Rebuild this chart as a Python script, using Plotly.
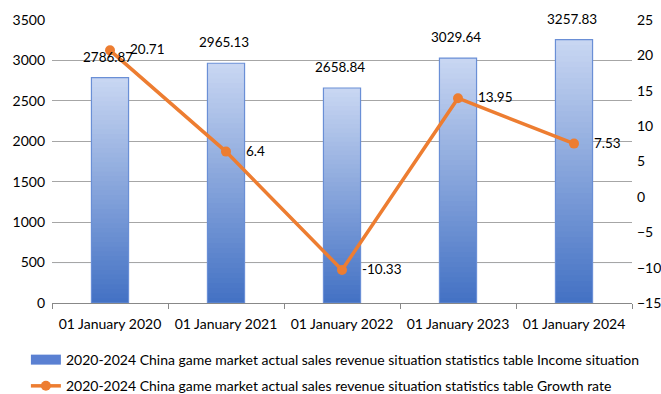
import plotly.graph_objects as go

# Data
years = ["01 January 2020", "01 January 2021", "01 January 2022", "01 January 2023", "01 January 2024"]
income = [2786.87, 2965.13, 2658.84, 3029.64, 3257.83]
growth = [20.71, 6.4, -10.33, 13.95, 7.53]

income_name = "2020-2024 China game market actual sales revenue situation statistics table Income situation"
growth_name = "2020-2024 China game market actual sales revenue situation statistics table Growth rate"

FONT = "Lato"
TOP = (200, 214, 242)
BOTTOM = (68, 114, 196)
N_STEPS = 48


def mix(t):
    r, g, b = (round(TOP[i] + (BOTTOM[i] - TOP[i]) * t) for i in range(3))
    return f"rgb({r},{g},{b})"


fig = go.Figure()

# Vertical gradient: overlaid bars, each shorter and darker than the last
for k in range(N_STEPS):
    frac = (N_STEPS - k) / N_STEPS
    fig.add_trace(go.Bar(
        x=years,
        y=[v * frac for v in income],
        marker=dict(color=mix(k / (N_STEPS - 1)), line=dict(width=0)),
        width=0.32,
        showlegend=False,
        hoverinfo="skip",
    ))

# Outline on top of the gradient
fig.add_trace(go.Bar(
    x=years, y=income, width=0.32,
    marker=dict(color="rgba(0,0,0,0)", line=dict(color="#6a8fd6", width=1.2)),
    showlegend=False, name=income_name,
))

# Legend entry for the revenue series
fig.add_trace(go.Scatter(
    x=years, y=[None] * len(years), mode="lines",
    line=dict(color="#5a80d2", width=12),
    name=income_name, showlegend=True, legendgroup="income",
))

fig.add_trace(go.Scatter(
    x=years, y=growth, yaxis="y2", mode="lines+markers",
    line=dict(color="#ed7d31", width=3.5),
    marker=dict(color="#ed7d31", size=10),
    name=growth_name, cliponaxis=False, legendgroup="growth",
))

# Revenue value labels above each bar
for x, v in zip(years, income):
    fig.add_annotation(
        x=x, y=v, xref="x", yref="y", text=f"{v:.2f}", showarrow=False,
        yanchor="bottom", yshift=11, xshift=-2,
        font=dict(family=FONT, size=13.5, color="#000"),
    )

# Growth-rate labels to the right of each marker
for x, g in zip(years, growth):
    fig.add_annotation(
        x=x, y=g, xref="x", yref="y2", text=str(g), showarrow=False,
        xanchor="left", yanchor="middle", xshift=18, yshift=1,
        font=dict(family=FONT, size=13.5, color="#000"),
    )

# Tinted guide line at 500
fig.add_shape(
    type="line", xref="paper", yref="y", x0=0, x1=1, y0=500, y1=500,
    line=dict(color="#8eaadf", width=1), layer="below",
)

fig.update_layout(
    width=661, height=394,
    margin=dict(l=52, r=29, t=20, b=91, autoexpand=False),
    paper_bgcolor="white", plot_bgcolor="white",
    barmode="overlay",
    font=dict(family=FONT, size=13, color="#000"),
    xaxis=dict(
        type="category",
        showline=True, linecolor="#888", linewidth=1,
        ticks="outside", tickson="boundaries", ticklen=5, tickcolor="#888",
        showgrid=False, tickfont=dict(size=14), tickangle=0, ticklabelstandoff=8,
    ),
    yaxis=dict(
        range=[0, 3500], dtick=500, showgrid=True, gridcolor="#a6a6a6", gridwidth=1,
        zeroline=False, showline=False, tickfont=dict(size=14), ticklabelstandoff=6,
    ),
    yaxis2=dict(
        range=[-15, 25], dtick=5, overlaying="y", side="right", showgrid=False,
        zeroline=False, showline=False, tickfont=dict(size=14), ticklabelstandoff=4,
    ),
    legend=dict(
        x=-0.045, y=-0.145, xanchor="left", yanchor="top",
        orientation="v", font=dict(size=14), traceorder="grouped", tracegroupgap=5,
        bgcolor="rgba(0,0,0,0)",
    ),
    showlegend=True,
)

fig.write_html("out.html")
